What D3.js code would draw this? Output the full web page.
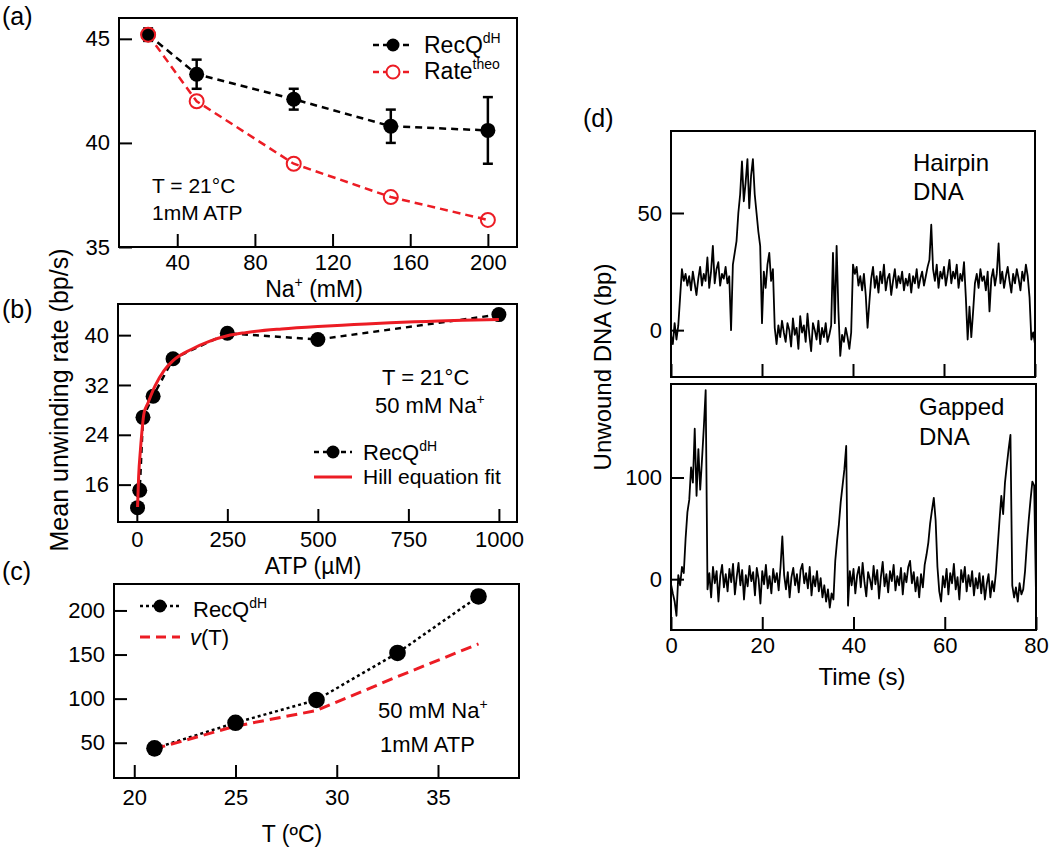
<!DOCTYPE html>
<html><head><meta charset="utf-8">
<script src="https://cdn.jsdelivr.net/npm/d3@7"></script>
<style>body{margin:0;background:#fff} svg{display:block}</style>
</head><body><svg id="c" width="1050" height="848"></svg>
<script>
// ---------- DATA ----------
// (a) unwinding rate vs Na+
const naConc = [25, 50, 100, 150, 200];
const recqNa = [45.2, 43.3, 42.1, 40.8, 40.6];
const recqNaErrLow = [44.9, 42.6, 41.6, 40.0, 39.0];
const recqNaErrHigh = [45.5, 44.0, 42.6, 41.6, 42.2];
const rateTheo = [45.2, 42.0, 39.0, 37.4, 36.3];
const naTicksX = [40, 80, 120, 160, 200];
const naTicksY = [35, 40, 45];
// (b) unwinding rate vs ATP
const atpConc = [2, 8, 17, 45, 100, 250, 500, 1000];
const recqAtp = [12.3, 15.1, 26.8, 30.2, 36.2, 40.3, 39.3, 43.3];
const hillAtp = [2, 5, 10, 20, 30, 50, 75, 100, 150, 200, 250, 300, 400, 500, 600, 700, 800, 900, 1000];
const hillRate = [12.4, 17.3, 21.6, 27.5, 29.0, 31.8, 34.3, 35.9, 37.7, 39.0, 39.9, 40.4, 41.0, 41.4, 41.7, 42.0, 42.2, 42.4, 42.5];
const atpTicksX = [0, 250, 500, 750, 1000];
const atpTicksY = [16, 24, 32, 40];
// (c) unwinding rate vs temperature
const tempC = [21, 25, 29, 33, 37];
const recqT = [43.6, 72.6, 98.5, 151.8, 215.9];
const vT = [43, 68.8, 86.5, 125, 162];
const tTicksX = [20, 25, 30, 35];
const tTicksY = [50, 100, 150, 200];
// (d) traces, sampled every 0.4 s from 0 s
const traceDt = 0.4;
const hairpinBp = [
  -2,-6,3,-4,2,14,26,21,24,19,
  23,17,25,20,15,22,27,19,24,21,
  31,18,25,36,20,26,29,19,24,22,
  27,20,23,0,28,33,38,50,58,72,
  55,63,73,52,66,73,58,50,42,36,
  3,25,18,28,33,21,26,1,-6,2,
  -3,4,-1,-5,3,0,-7,5,-2,1,
  -8,6,-1,2,-5,7,-2,-9,3,0,
  -4,4,-6,1,-3,3,-5,-2,2,33,
  3,36,8,-11,-2,-5,1,-3,-8,-1,
  28,24,27,19,23,17,24,15,1,12,
  22,27,18,23,16,25,20,28,17,22,
  24,15,21,26,18,23,20,25,17,22,
  19,24,16,23,20,26,18,22,25,19,
  23,27,30,45,26,21,28,18,25,22,
  27,19,24,30,20,25,22,28,18,24,
  21,29,14,-4,10,-3,8,20,24,18,
  26,21,23,17,25,8,22,26,19,24,
  37,20,25,18,23,27,21,16,24,20,
  26,22,17,25,21,28,23,14,-4,-1,
  -6];
const gappedBp = [
  -5,-14,-22,-36,4,-6,12,6,40,66,
  78,110,95,148,82,128,88,118,150,186,
  -10,6,-18,12,-4,8,-22,3,14,-8,
  5,-12,10,-3,15,-15,2,16,-6,9,
  -20,4,-7,13,-2,7,-16,11,0,-24,
  8,-5,14,-9,3,-14,10,-3,6,-11,
  12,42,4,-10,7,-18,2,11,-6,5,
  -13,9,15,-4,6,-9,12,-16,3,-7,
  8,-12,1,-18,-6,-22,-10,-28,-14,-20,
  18,38,54,76,92,108,131,-26,8,-6,
  10,-14,4,12,-8,16,-3,-17,7,0,
  -10,13,-5,9,-19,2,17,-7,5,-13,
  8,-2,14,-11,3,-6,11,-15,6,-3,
  12,18,-4,7,-12,2,-18,5,-8,14,
  24,36,55,68,80,58,12,-12,-22,3,
  -8,10,-15,6,-4,15,-10,2,-20,9,
  -3,12,-12,4,-7,8,-16,1,-9,6,
  -14,3,-20,-5,5,-18,-2,-12,6,32,
  58,82,64,95,112,128,142,-6,-18,-8,
  -22,-4,-15,-10,8,35,58,78,96,92,
  -15];
const timeTicks = [0, 20, 40, 60, 80];
const hairpinTicksY = [0, 50];
const gappedTicksY = [0, 100];

// ---------- DRAWING ----------
const FONT = "Arial, 'Liberation Sans', sans-serif";
const RED = '#ec1c24';
const svg = d3.select('#c');

function makePanel(o) {
  const x = d3.scaleLinear().domain(o.xDomain).range([o.left, o.right]);
  const y = d3.scaleLinear().domain(o.yDomain).range([o.bottom, o.top]);
  const g = svg.append('g');
  const ax = g.append('g').attr('transform', `translate(0,${o.bottom})`)
    .call(d3.axisBottom(x).tickValues(o.xTicks).tickSizeInner(-13).tickSizeOuter(0)
      .tickPadding(o.xPad ?? 9).tickFormat(o.xLabels === false ? () => '' : d3.format('d')));
  const ay = g.append('g').attr('transform', `translate(${o.left},0)`)
    .call(d3.axisLeft(y).tickValues(o.yTicks).tickSizeInner(-13).tickSizeOuter(0)
      .tickPadding(o.yPad ?? 9).tickFormat(d3.format('d')));
  [ax, ay].forEach(a => {
    a.select('.domain').remove();
    a.selectAll('line').attr('stroke', '#000').attr('stroke-width', 2);
    a.selectAll('text').attr('font-size', o.tickFont ?? 22).attr('font-family', FONT).attr('fill', '#000');
  });
  g.append('rect').attr('x', o.left).attr('y', o.top).attr('width', o.right - o.left)
    .attr('height', o.bottom - o.top).attr('fill', 'none').attr('stroke', '#000').attr('stroke-width', 2);
  return { x, y, g };
}

function txt(x, y, s, size, anchor) {
  return svg.append('text').attr('x', x).attr('y', y).attr('font-family', FONT)
    .attr('font-size', size).attr('text-anchor', anchor || 'start').attr('fill', '#000').text(s);
}
function supTxt(x, y, base, sup, size, supSize, after, anchor) {
  const t = svg.append('text').attr('x', x).attr('y', y).attr('font-family', FONT)
    .attr('font-size', size).attr('text-anchor', anchor || 'start').attr('fill', '#000');
  t.append('tspan').text(base);
  t.append('tspan').attr('font-size', supSize).attr('dy', -size * 0.42).text(sup);
  if (after) t.append('tspan').attr('dy', size * 0.42).text(after);
  return t;
}
function line(g, xs, ys, x, y, color, width, dash) {
  const pts = xs.map((v, i) => [x(v), y(ys[i])]);
  g.append('path').attr('d', d3.line()(pts)).attr('fill', 'none').attr('stroke', color)
    .attr('stroke-width', width).attr('stroke-dasharray', dash || null);
}

// Panel labels
txt(2, 25, '(a)', 25);
txt(2, 318, '(b)', 25);
txt(2, 580, '(c)', 25);
txt(583, 127, '(d)', 25);

// ----- (a) -----
{
  const p = makePanel({ left: 119, right: 517, top: 18, bottom: 247, xDomain: [10, 215], yDomain: [35, 46],
    xTicks: naTicksX, yTicks: naTicksY, xPad: 7, yPad: 9 });
  const { x, y, g } = p;
  line(g, naConc, recqNa, x, y, '#000', 2.5, '7,5');
  line(g, naConc, rateTheo, x, y, RED, 2.5, '8,5');
  naConc.forEach((v, i) => {
    g.append('line').attr('x1', x(v)).attr('x2', x(v)).attr('y1', y(recqNaErrLow[i])).attr('y2', y(recqNaErrHigh[i]))
      .attr('stroke', '#000').attr('stroke-width', 2.5);
    [recqNaErrLow[i], recqNaErrHigh[i]].forEach(e => g.append('line').attr('x1', x(v) - 5).attr('x2', x(v) + 5)
      .attr('y1', y(e)).attr('y2', y(e)).attr('stroke', '#000').attr('stroke-width', 2.5));
  });
  g.selectAll('.da').data(naConc).join('circle').attr('cx', d => x(d)).attr('cy', (d, i) => y(recqNa[i]))
    .attr('r', 7.5).attr('fill', '#000');
  g.selectAll('.dr').data(naConc).join('circle').attr('cx', d => x(d)).attr('cy', (d, i) => y(rateTheo[i]))
    .attr('r', 7).attr('fill', 'none').attr('stroke', RED).attr('stroke-width', 2);
  // legend
  svg.append('line').attr('x1', 373).attr('x2', 413).attr('y1', 45).attr('y2', 45).attr('stroke', '#000').attr('stroke-width', 2.5).attr('stroke-dasharray', '6,4');
  svg.append('circle').attr('cx', 393).attr('cy', 45).attr('r', 6.5).attr('fill', '#000');
  svg.append('line').attr('x1', 373).attr('x2', 413).attr('y1', 72).attr('y2', 72).attr('stroke', RED).attr('stroke-width', 2.5).attr('stroke-dasharray', '6,4');
  svg.append('circle').attr('cx', 393).attr('cy', 72).attr('r', 6.5).attr('fill', '#fff').attr('stroke', RED).attr('stroke-width', 2);
  supTxt(424, 53, 'RecQ', 'dH', 23, 14);
  supTxt(424, 79, 'Rate', 'theo', 23, 14);
  txt(152, 193, 'T = 21°C', 21);
  txt(152, 220, '1mM ATP', 21);
  supTxt(314, 297, 'Na', '+', 23, 14, ' (mM)', 'middle');
}

// ----- (b) -----
{
  const p = makePanel({ left: 118, right: 517, top: 304, bottom: 522, xDomain: [-52, 1050], yDomain: [10, 45],
    xTicks: atpTicksX, yTicks: atpTicksY, xPad: 9, yPad: 9 });
  const { x, y, g } = p;
  line(g, atpConc, recqAtp, x, y, '#000', 2.5, '6,5');
  g.selectAll('.db').data(atpConc).join('circle').attr('cx', d => x(d)).attr('cy', (d, i) => y(recqAtp[i]))
    .attr('r', 7.5).attr('fill', '#000');
  const hill = hillAtp.map((v, i) => [x(v), y(hillRate[i])]);
  g.append('path').attr('d', d3.line().curve(d3.curveMonotoneX)(hill)).attr('fill', 'none').attr('stroke', RED).attr('stroke-width', 3);
  txt(382, 385, 'T = 21°C', 22);
  supTxt(375, 413, '50 mM Na', '+', 22, 14);
  svg.append('line').attr('x1', 314).attr('x2', 352).attr('y1', 452).attr('y2', 452).attr('stroke', '#000').attr('stroke-width', 2.5).attr('stroke-dasharray', '5,4');
  svg.append('circle').attr('cx', 333).attr('cy', 452).attr('r', 6.5).attr('fill', '#000');
  svg.append('line').attr('x1', 314).attr('x2', 352).attr('y1', 477).attr('y2', 477).attr('stroke', RED).attr('stroke-width', 3);
  supTxt(363, 460, 'RecQ', 'dH', 22, 14);
  txt(363, 484, 'Hill equation fit', 21);
  txt(313, 574, 'ATP (µM)', 23, 'middle');
  // y-axis label shared by (a)-(c)
  svg.append('text').attr('transform', 'translate(68,400) rotate(-90)').attr('text-anchor', 'middle')
    .attr('font-family', FONT).attr('font-size', 25).attr('fill', '#000').text('Mean unwinding rate (bp/s)');
}

// ----- (c) -----
{
  const p = makePanel({ left: 114, right: 519, top: 584, bottom: 778, xDomain: [19, 39], yDomain: [10, 230],
    xTicks: tTicksX, yTicks: tTicksY, xPad: 11, yPad: 9 });
  const { x, y, g } = p;
  line(g, tempC, recqT, x, y, '#000', 2.5, '3,3');
  line(g, tempC, vT, x, y, RED, 3, '11,6');
  g.selectAll('.dc').data(tempC).join('circle').attr('cx', d => x(d)).attr('cy', (d, i) => y(recqT[i]))
    .attr('r', 8.3).attr('fill', '#000');
  svg.append('line').attr('x1', 140).attr('x2', 180).attr('y1', 606).attr('y2', 606).attr('stroke', '#000').attr('stroke-width', 2.5).attr('stroke-dasharray', '3,3');
  svg.append('circle').attr('cx', 160).attr('cy', 606).attr('r', 6.5).attr('fill', '#000');
  svg.append('line').attr('x1', 140).attr('x2', 180).attr('y1', 637).attr('y2', 637).attr('stroke', RED).attr('stroke-width', 3).attr('stroke-dasharray', '10,6');
  supTxt(193, 617, 'RecQ', 'dH', 22, 14);
  const vt = svg.append('text').attr('x', 190).attr('y', 645).attr('font-family', FONT).attr('font-size', 22).attr('fill', '#000');
  vt.append('tspan').attr('font-style', 'italic').text('v');
  vt.append('tspan').text('(T)');
  supTxt(378, 718, '50 mM Na', '+', 22, 14);
  txt(380, 752, '1mM ATP', 22);
  txt(292, 842, 'T (ºC)', 23, 'middle');
}

// ----- (d) -----
function trace(p, values, id) {
  svg.append('clipPath').attr('id', id).append('rect')
    .attr('x', p.x.range()[0]).attr('y', p.y.range()[1]).attr('width', p.x.range()[1] - p.x.range()[0])
    .attr('height', p.y.range()[0] - p.y.range()[1]);
  const pts = values.map((v, i) => [p.x(i * traceDt), p.y(v)]);
  p.g.append('path').attr('d', d3.line()(pts)).attr('fill', 'none').attr('stroke', '#000')
    .attr('stroke-width', 1.8).attr('stroke-linejoin', 'round').attr('clip-path', `url(#${id})`);
}
{
  const top = makePanel({ left: 671, right: 1035, top: 131, bottom: 377, xDomain: [0, 80], yDomain: [-20, 85],
    xTicks: timeTicks, yTicks: hairpinTicksY, xLabels: false, yPad: 9 });
  trace(top, hairpinBp, 'clipH');
  txt(913, 171, 'Hairpin', 24);
  txt(913, 200, 'DNA', 24);
  const bot = makePanel({ left: 671, right: 1036, top: 384, bottom: 630, xDomain: [0, 80], yDomain: [-50, 192],
    xTicks: timeTicks, yTicks: gappedTicksY, xPad: 7, yPad: 9 });
  trace(bot, gappedBp, 'clipG');
  txt(919, 415, 'Gapped', 24);
  txt(919, 445, 'DNA', 24);
  txt(862, 685, 'Time (s)', 24, 'middle');
  svg.append('text').attr('transform', 'translate(611,367) rotate(-90)').attr('text-anchor', 'middle')
    .attr('font-family', FONT).attr('font-size', 24).attr('fill', '#000').text('Unwound DNA (bp)');
}
</script></body></html>
